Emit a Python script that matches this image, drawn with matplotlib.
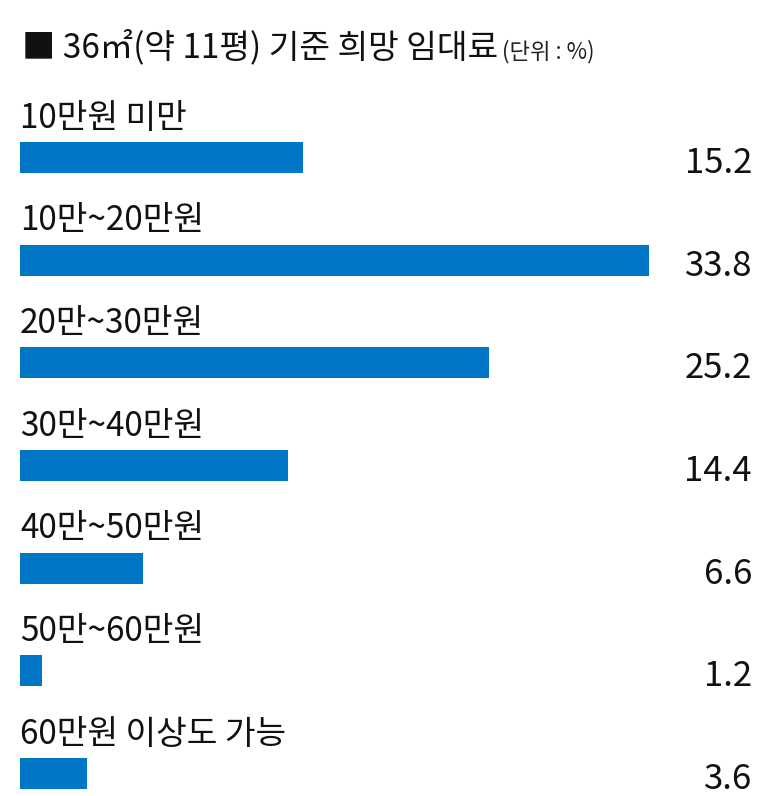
import matplotlib
matplotlib.use("Agg")
import matplotlib.pyplot as plt
import matplotlib.transforms as mtransforms

# data
categories = ["10만원 미만", "10만~20만원", "20만~30만원", "30만~40만원",
              "40만~50만원", "50만~60만원", "60만원 이상도 가능"]
values = [15.2, 33.8, 25.2, 14.4, 6.6, 1.2, 3.6]
value_labels = ["15.2", "33.8", "25.2", "14.4", "6.6", "1.2", "3.6"]

title = "■ 36㎡(약 11평) 기준 희망 임대료"
unit = "(단위 : %)"

plt.rcParams["font.family"] = ["Noto Sans CJK KR", "DejaVu Sans"]
BAR_COLOR = "#0076c6"
TEXT_COLOR = "#111111"

fig = plt.figure(figsize=(7.84, 7.96), dpi=100)
ax = fig.add_axes([20 / 784, 0, 732 / 784, 1])

y = list(range(len(categories)))
ax.barh(y, values, height=0.30, color=BAR_COLOR, align="center")

ax.set_xlim(0, 39.34)
ax.set_ylim(6.219, -1.534)
ax.axis("off")

# category names above each bar, values at the right edge
trans = mtransforms.blended_transform_factory(ax.transAxes, ax.transData)
for i, (cat, lab) in enumerate(zip(categories, value_labels)):
    ax.text(0, i - 0.29, cat, fontsize=24, color=TEXT_COLOR,
            ha="left", va="baseline")
    ax.text(1.0, i + 0.15, lab, fontsize=25, color=TEXT_COLOR,
            ha="right", va="baseline", transform=trans)

t = fig.text(22 / 784, 1 - 57 / 796, title, fontsize=24, color=TEXT_COLOR,
             ha="left", va="baseline")
ax.annotate(unit, xy=(1, 0), xycoords=t, xytext=(3, 1), textcoords="offset points",
            fontsize=16, color="#222222", ha="left", va="bottom")

fig.savefig("out.png", dpi=100, facecolor="white")
